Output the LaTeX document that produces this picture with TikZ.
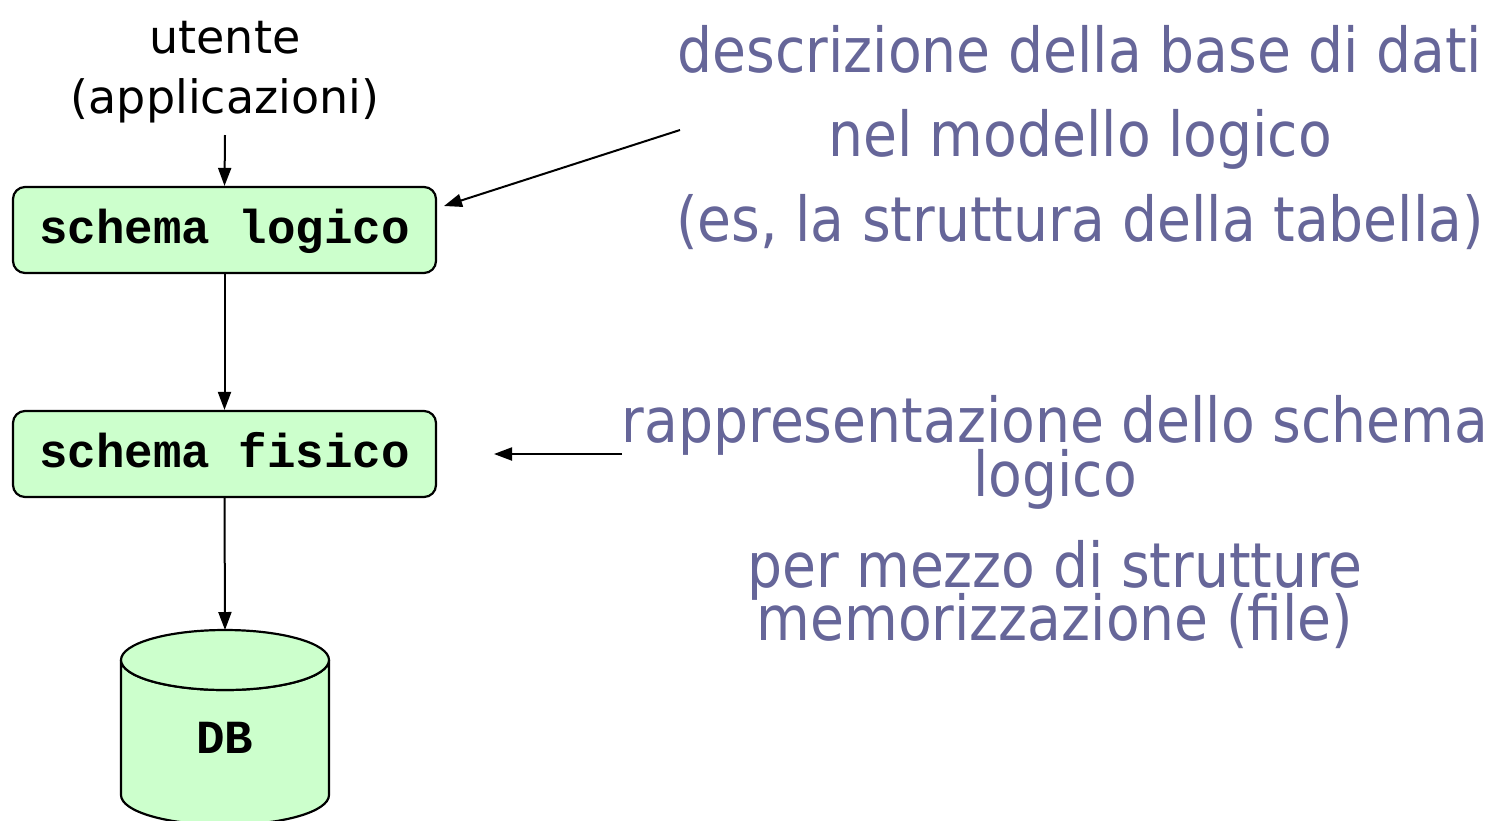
\documentclass[tikz,border=0pt]{standalone}
\usepackage{fontspec}
\usetikzlibrary{arrows.meta}
\newfontfamily\capfont[FakeStretch=0.89]{DejaVu Sans}
\newfontfamily\userfont{DejaVu Sans}
\newfontfamily\codefont{Liberation Mono}
\definecolor{boxgreen}{HTML}{CCFFCC}
\definecolor{notecol}{HTML}{666699}
\tikzset{
  box/.style={draw, line width=2.2pt, fill=boxgreen, rounded corners=12pt,
    minimum width=423pt, minimum height=86pt, inner sep=0pt,
    text height=28pt, text depth=2pt,
    font=\codefont\bfseries\fontsize{47.5}{50}\selectfont},
  note/.style={anchor=base, inner sep=0pt, text=notecol,
    font=\capfont\fontsize{62}{74}\selectfont},
  usr/.style={anchor=base, inner sep=0pt,
    font=\userfont\fontsize{46}{58}\selectfont},
  arr/.style={line width=2pt, -{Triangle[length=18pt, width=13pt]}},
  cyl/.style={line width=2.2pt, fill=boxgreen},
}
\begin{document}
\begin{tikzpicture}[x=1pt, y=-1pt]
\clip (0,0) rectangle (1504,820);
\fill[white] (0,0) rectangle (1504,820);

% user / applications
\node[usr] (u1) at (225,53) {utente};
\node[usr] (u2) at (225,113) {(applicazioni)};
\coordinate (ufoot) at (225,135);

% schema boxes
\node[box] (sl) at (224.5,230) {schema logico};
\node[box] (sf) at (224.5,454) {schema fisico};

% database cylinder: body, then the top lid
\filldraw[cyl]
  (121,660) -- (121,795) arc[start angle=180, end angle=0, x radius=104, y radius=30]
  -- (329,660) arc[start angle=0, end angle=180, x radius=104, y radius=30] -- cycle;
\filldraw[cyl] (225,660) ellipse[x radius=104, y radius=30];
\coordinate (dbtop) at (225,630);
\node[font=\codefont\bfseries\fontsize{47.5}{50}\selectfont, anchor=base, inner sep=0pt] (db) at (225,753) {DB};

% notes
\node[note] (d1) at (1080,72) {descrizione della base di dati};
\node[note] (d2) at (1080,156) {nel modello logico};
\node[note] (d3) at (1080,241) {(es, la struttura della tabella)};

\node[note] (r1) at (1055,442) {rappresentazione dello schema};
\node[note] (r2) at (1055,496) {logico};
\node[note] (r3) at (1055,587) {per mezzo di strutture};
\node[note] (r4) at (1055,640) {memorizzazione (file)};

% connectors
\draw[arr] (ufoot) -- (sl.north);
\draw[arr] (sl.south) -- (sf.north);
\draw[arr] (sf.south) -- (dbtop);

\coordinate (dstart) at (680,130);
\coordinate (dtip) at (444,206);
\draw[arr] (dstart) -- (dtip);

\coordinate (rstart) at (622,454);
\coordinate (rtip) at (494,454);
\draw[arr] (rstart) -- (rtip);
\end{tikzpicture}
\end{document}
